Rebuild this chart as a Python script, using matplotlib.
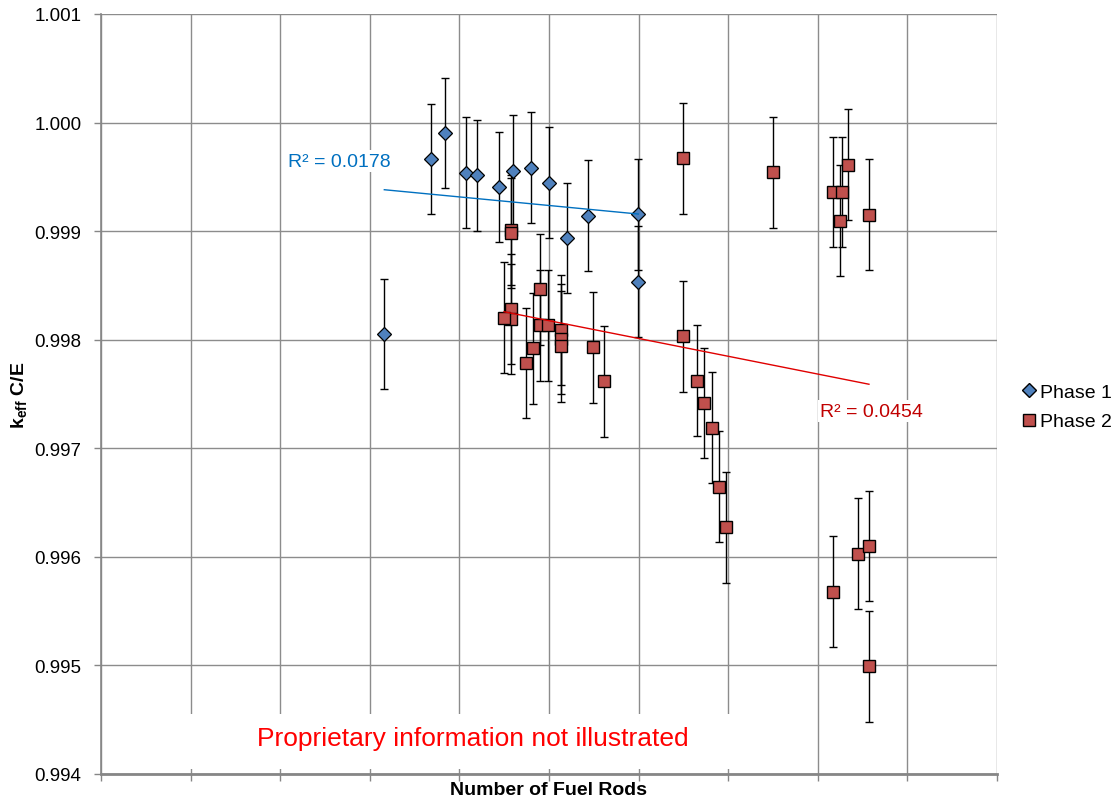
"""
Calculated / experimental k_eff versus number of fuel rods, Phase 1 and Phase 2
"""

import numpy as np
import matplotlib
matplotlib.use("Agg")
import matplotlib.pyplot as plt
from matplotlib.lines import Line2D
from matplotlib.patches import Rectangle

# Phase 1 (x positions are in grid units, the real rod counts are not shown)
phase1_x = [3.162, 3.680, 3.839, 4.077, 4.196, 4.439, 4.595, 4.796, 4.997,
            5.198, 5.435, 5.997, 5.997]
phase1_y = [0.998053, 0.999664, 0.999904, 0.999538, 0.999514, 0.999407,
            0.999557, 0.999584, 0.999446, 0.998937, 0.999142, 0.999155,
            0.998534]
phase1_err = [0.00051] * len(phase1_x)

# Phase 2
phase2_x = [4.576, 4.576, 4.576, 4.576, 4.498, 4.743, 4.818, 4.900, 4.900,
            4.992, 5.137, 5.137, 5.137, 5.494, 5.617, 6.496, 6.496, 6.655,
            6.733, 6.814, 6.894, 6.975, 7.497, 8.173, 8.274, 8.251, 8.334,
            8.571, 8.173, 8.452, 8.571, 8.571]
phase2_y = [0.999010, 0.998983, 0.998283, 0.998191, 0.998203, 0.997785,
            0.997921, 0.998464, 0.998133, 0.998133, 0.998089, 0.998007,
            0.997938, 0.997930, 0.997617, 0.999671, 0.998031, 0.997623,
            0.997417, 0.997190, 0.996647, 0.996272, 0.999542, 0.999361,
            0.999361, 0.999096, 0.999612, 0.999152, 0.995680, 0.996030,
            0.996101, 0.994992]
phase2_err = [0.00051] * len(phase2_x)

r2_labels = ["R² = 0.0178", "R² = 0.0454"]
y_ticks = [0.994, 0.995, 0.996, 0.997, 0.998, 0.999, 1.000, 1.001]

BLUE = "#4F81BD"
RED = "#C0504D"

plt.rcParams["font.family"] = ["Liberation Sans", "DejaVu Sans"]
plt.rcParams["mathtext.fontset"] = "custom"
plt.rcParams["mathtext.rm"] = "Liberation Sans"
plt.rcParams["mathtext.bf"] = "Liberation Sans:bold"


def trend(x, y):
    # least squares line over the range of the series
    k, b = np.polyfit(x, y, 1)
    xs = np.array([min(x), max(x)])
    return xs, k * xs + b


def plot():
    fig = plt.figure(figsize=(11.18, 8.03), dpi=100)
    ax = fig.add_axes([101 / 1118, 1 - 775 / 803, 896 / 1118, 760 / 803])

    ax.set_xlim(0, 10)
    ax.set_ylim(0.994, 1.001)
    ax.set_xticks(range(11))
    ax.set_xticklabels([])
    ax.set_yticks(y_ticks)
    ax.set_yticklabels(["%.3f" % v for v in y_ticks], fontsize=13.5)
    ax.tick_params(axis="both", length=5, width=1, color="#868686")
    ax.tick_params(axis="y", pad=9)
    ax.grid(True, color="#8c8c8c", linewidth=1.0, zorder=0)
    ax.set_axisbelow(True)
    for side in ("top", "right"):
        ax.spines[side].set_visible(False)
    ax.spines["left"].set_color("#868686")
    ax.spines["left"].set_linewidth(1.2)
    ax.spines["bottom"].set_color("#868686")
    ax.spines["bottom"].set_linewidth(2.0)

    # white box behind the note
    ax.add_patch(Rectangle((0.099, 0.007), 0.608, 0.072, transform=ax.transAxes,
                           facecolor="white", edgecolor="none", zorder=1))

    err_kw = dict(fmt="none", ecolor="black", elinewidth=1.0, capsize=2.8,
                  capthick=1.0, zorder=3)
    ax.errorbar(phase1_x, phase1_y, yerr=phase1_err, **err_kw)
    ax.errorbar(phase2_x, phase2_y, yerr=phase2_err, **err_kw)
    ax.plot(phase1_x, phase1_y, "D", color=BLUE, markeredgecolor="black",
            markeredgewidth=0.9, markersize=7.0, zorder=4)
    ax.plot(phase2_x, phase2_y, "s", color=RED, markeredgecolor="black",
            markeredgewidth=1.0, markersize=8.4, zorder=5)

    tx, ty = trend(phase1_x, phase1_y)
    ax.plot(tx, ty, color="#0070C0", linewidth=1.0, zorder=6)
    tx, ty = trend(phase2_x, phase2_y)
    ax.plot(tx, ty, color="#E00000", linewidth=1.0, zorder=6)

    box = dict(facecolor="white", edgecolor="none", pad=2)
    ax.text(2.087, 0.999646, r2_labels[0], color="#0070C0", fontsize=14,
            va="center", ha="left", bbox=box, zorder=7)
    ax.text(8.03, 0.997343, r2_labels[1], color="#C00000", fontsize=14,
            va="center", ha="left", bbox=box, zorder=7)

    ax.text(4.15, 0.994332, "Proprietary information not illustrated",
            color="#FF0000", fontsize=19, ha="center", va="center", zorder=7)

    fig.text(549 / 1118, 1 - 791 / 803, "Number of Fuel Rods", fontsize=14,
             fontweight="bold", ha="center", va="center")
    fig.text(19 / 1118, 1 - 395 / 803, r"$\mathbf{k_{eff}}$ C/E", fontsize=14,
             fontweight="bold", rotation=90, ha="center", va="center")

    handles = [Line2D([], [], marker="D", linestyle="none", color=BLUE,
                      markeredgecolor="black", markersize=7.5),
               Line2D([], [], marker="s", linestyle="none", color=RED,
                      markeredgecolor="black", markersize=9)]
    fig.legend(handles, ["Phase 1", "Phase 2"], loc="center left",
               bbox_to_anchor=(1023 / 1118, 1 - 408 / 803), frameon=False,
               fontsize=14, handlelength=0.6, handletextpad=0.3,
               borderpad=0, borderaxespad=0, labelspacing=0.6)

    fig.savefig("out.png", dpi=100)


if __name__ == "__main__":
    plot()
